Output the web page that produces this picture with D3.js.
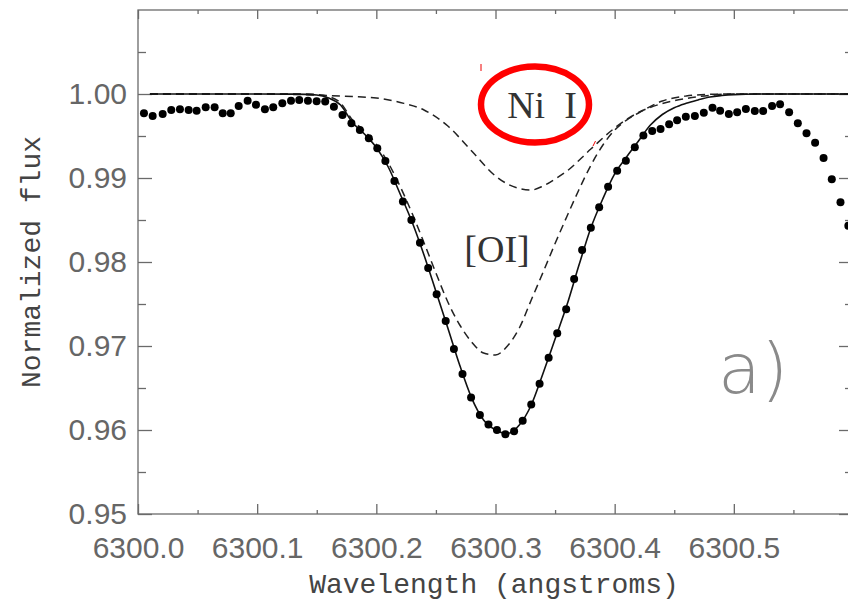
<!DOCTYPE html>
<html>
<head>
<meta charset="utf-8">
<script src="https://cdn.jsdelivr.net/npm/d3@7"></script>
<style>
  html, body { margin: 0; padding: 0; background: #fff; }
  svg { display: block; }
</style>
</head>
<body>
<div id="chart"></div>
<script>
// --- Data (wavelength in angstroms, normalized flux) ---
const obsWave = [6300.0050, 6300.0123, 6300.0207, 6300.0279, 6300.0352, 6300.0425, 6300.0492, 6300.0568, 6300.0643, 6300.0711,
  6300.0778, 6300.0845, 6300.0920, 6300.0990, 6300.1065, 6300.1135, 6300.1211, 6300.1284, 6300.1353, 6300.1426,
  6300.1499, 6300.1571, 6300.1644, 6300.1716, 6300.1791, 6300.1862, 6300.1937, 6300.2008, 6300.2076, 6300.2152,
  6300.2223, 6300.2294, 6300.2366, 6300.2435, 6300.2506, 6300.2582, 6300.2651, 6300.2723, 6300.2795, 6300.2869,
  6300.2941, 6300.3012, 6300.3083, 6300.3156, 6300.3228, 6300.3300, 6300.3370, 6300.3446, 6300.3518, 6300.3593,
  6300.3660, 6300.3727, 6300.3800, 6300.3870, 6300.3945, 6300.4021, 6300.4094, 6300.4169, 6300.4241, 6300.4315,
  6300.4385, 6300.4457, 6300.4524, 6300.4597, 6300.4673, 6300.4748, 6300.4821, 6300.4885, 6300.4958, 6300.5028,
  6300.5101, 6300.5176, 6300.5246, 6300.5321, 6300.5388, 6300.5464, 6300.5537, 6300.5610, 6300.5682, 6300.5753,
  6300.5822, 6300.5895, 6300.5961];
const obsFlux = [0.99770, 0.99738, 0.99762, 0.99810, 0.99818, 0.99810, 0.99801, 0.99842, 0.99842, 0.99770,
  0.99770, 0.99857, 0.99920, 0.99873, 0.99818, 0.99842, 0.99889, 0.99920, 0.99929, 0.99920,
  0.99913, 0.99911, 0.99849, 0.99750, 0.99651, 0.99571, 0.99473, 0.99354, 0.99202, 0.98964,
  0.98720, 0.98500, 0.98230, 0.97929, 0.97615, 0.97298, 0.96964, 0.96667, 0.96387, 0.96179,
  0.96065, 0.96000, 0.95950, 0.95986, 0.96111, 0.96304, 0.96551, 0.96861, 0.97151, 0.97437,
  0.97798, 0.98143, 0.98408, 0.98651, 0.98896, 0.99087, 0.99206, 0.99365, 0.99506, 0.99560,
  0.99583, 0.99639, 0.99687, 0.99730, 0.99738, 0.99777, 0.99837, 0.99801, 0.99762, 0.99782,
  0.99821, 0.99798, 0.99798, 0.99857, 0.99877, 0.99782, 0.99651, 0.99532, 0.99420, 0.99238,
  0.98985, 0.98711, 0.98432];

// synthetic fit (solid)
const fitWave = [6300.01, 6300.05, 6300.10, 6300.13, 6300.15, 6300.16, 6300.17, 6300.18, 6300.19, 6300.20,
  6300.21, 6300.22, 6300.23, 6300.24, 6300.25, 6300.26, 6300.27, 6300.28, 6300.29, 6300.30,
  6300.31, 6300.32, 6300.33, 6300.34, 6300.35, 6300.36, 6300.37, 6300.38, 6300.39, 6300.40,
  6300.41, 6300.42, 6300.43, 6300.44, 6300.45, 6300.46, 6300.47, 6300.48, 6300.49, 6300.50,
  6300.52, 6300.60];
const fitFlux = [1.00000, 1.00000, 1.00000, 0.99998, 0.99988, 0.99952, 0.99869, 0.99660, 0.99524, 0.99363,
  0.99131, 0.98810, 0.98476, 0.98083, 0.97650, 0.97214, 0.96770, 0.96380, 0.96119, 0.96000,
  0.95958, 0.96060, 0.96298, 0.96679, 0.97083, 0.97490, 0.97960, 0.98405, 0.98750, 0.99048,
  0.99250, 0.99440, 0.99630, 0.99756, 0.99837, 0.99889, 0.99929, 0.99964, 0.99982, 0.99993,
  1.00000, 1.00000];

// Ni I blend component (dashed)
const niWave = [6300.01, 6300.10, 6300.12, 6300.14, 6300.16, 6300.18, 6300.20, 6300.22, 6300.24, 6300.26,
  6300.28, 6300.30, 6300.31, 6300.32, 6300.33, 6300.34, 6300.35, 6300.36, 6300.38, 6300.40,
  6300.42, 6300.44, 6300.46, 6300.48, 6300.50, 6300.60];
const niFlux = [1.00000, 1.00000, 0.99998, 0.99992, 0.99982, 0.99970, 0.99952, 0.99899, 0.99810, 0.99619,
  0.99321, 0.99024, 0.98929, 0.98875, 0.98857, 0.98905, 0.98988, 0.99083, 0.99345, 0.99595,
  0.99780, 0.99887, 0.99946, 0.99985, 1.00000, 1.00000];

// [OI] component (dashed)
const oiWave = [6300.01, 6300.14, 6300.15, 6300.16, 6300.17, 6300.18, 6300.19, 6300.20, 6300.21, 6300.22,
  6300.23, 6300.24, 6300.25, 6300.26, 6300.27, 6300.28, 6300.29, 6300.30, 6300.31, 6300.32,
  6300.33, 6300.34, 6300.35, 6300.36, 6300.37, 6300.38, 6300.39, 6300.40, 6300.41, 6300.42,
  6300.44, 6300.46, 6300.48, 6300.50, 6300.60];
const oiFlux = [1.00000, 1.00000, 0.99994, 0.99970, 0.99893, 0.99690, 0.99560, 0.99400, 0.99180, 0.98900,
  0.98580, 0.98230, 0.97869, 0.97524, 0.97250, 0.97048, 0.96917, 0.96893, 0.97000, 0.97214,
  0.97548, 0.97880, 0.98220, 0.98545, 0.98860, 0.99150, 0.99390, 0.99570, 0.99690, 0.99774,
  0.99917, 0.99976, 0.99996, 1.00000, 1.00000];

const xMajor = [6300.0, 6300.1, 6300.2, 6300.3, 6300.4, 6300.5];
const xMinor = [6300.05, 6300.15, 6300.25, 6300.35, 6300.45, 6300.55];
const yMajor = [0.95, 0.96, 0.97, 0.98, 0.99, 1.00];
const yMinor = [0.955, 0.965, 0.975, 0.985, 0.995, 1.005];

// --- Setup ---
const W = 848, H = 603;
const svg = d3.select('#chart').append('svg').attr('width', W).attr('height', H);

const x = d3.scaleLinear().domain([6300.0, 6300.6]).range([138, 853]);
const y = d3.scaleLinear().domain([0.95, 1.01]).range([514, 10]);

const axisColor = '#6a6a6a';
const labelFont = '"Liberation Sans", Arial, sans-serif';

// frame
svg.append('rect')
  .attr('x', x.range()[0]).attr('y', y.range()[1])
  .attr('width', x.range()[1] - x.range()[0]).attr('height', y.range()[0] - y.range()[1])
  .attr('fill', 'none').attr('stroke', axisColor).attr('stroke-width', 1.3);

function styleAxis(sel) {
  sel.select('.domain').remove();
  sel.selectAll('line').attr('stroke', axisColor).attr('stroke-width', 1.3);
  sel.selectAll('text').attr('fill', '#666').style('font-family', labelFont).style('font-size', '30px');
}

// left / right y ticks
svg.append('g').attr('transform', `translate(${x.range()[0]},0)`)
  .call(d3.axisLeft(y).tickValues(yMajor).tickSize(-14).tickPadding(11).tickFormat(d3.format('.2f')))
  .call(styleAxis);
svg.append('g').attr('transform', `translate(${x.range()[0]},0)`)
  .call(d3.axisLeft(y).tickValues(yMinor).tickSize(-8).tickFormat(''))
  .call(styleAxis);
svg.append('g').attr('transform', `translate(${x.range()[1]},0)`)
  .call(d3.axisRight(y).tickValues(yMajor).tickSize(-14).tickFormat(''))
  .call(styleAxis);
svg.append('g').attr('transform', `translate(${x.range()[1]},0)`)
  .call(d3.axisRight(y).tickValues(yMinor).tickSize(-8).tickFormat(''))
  .call(styleAxis);

// bottom / top x ticks
svg.append('g').attr('transform', `translate(0,${y.range()[0]})`)
  .call(d3.axisBottom(x).tickValues(xMajor).tickSize(-10).tickPadding(23).tickFormat(d3.format('.1f')))
  .call(styleAxis);
svg.append('g').attr('transform', `translate(0,${y.range()[0]})`)
  .call(d3.axisBottom(x).tickValues(xMinor).tickSize(-4).tickFormat(''))
  .call(styleAxis);
svg.append('g').attr('transform', `translate(0,${y.range()[1]})`)
  .call(d3.axisTop(x).tickValues(xMajor).tickSize(-9).tickFormat(''))
  .call(styleAxis);
svg.append('g').attr('transform', `translate(0,${y.range()[1]})`)
  .call(d3.axisTop(x).tickValues(xMinor).tickSize(-4).tickFormat(''))
  .call(styleAxis);

// axis titles
const titleFont = '"Liberation Mono", "DejaVu Sans Mono", monospace';
svg.append('text')
  .attr('x', 494).attr('y', 593)
  .attr('text-anchor', 'middle')
  .attr('fill', '#444')
  .style('font-family', titleFont).style('font-size', '28px')
  .text('Wavelength (angstroms)');
svg.append('text')
  .attr('transform', 'translate(40,262) rotate(-90)')
  .attr('text-anchor', 'middle')
  .attr('fill', '#444')
  .style('font-family', titleFont).style('font-size', '28px')
  .text('Normalized flux');

// --- Lines ---
const line = d3.line()
  .x(d => x(d[0])).y(d => y(d[1]))
  .curve(d3.curveMonotoneX);

const zip = (a, b) => a.map((v, i) => [v, b[i]]);

svg.append('path').datum(zip(niWave, niFlux))
  .attr('d', line).attr('fill', 'none')
  .attr('stroke', '#222').attr('stroke-width', 1.5).attr('stroke-dasharray', '8,5');
svg.append('path').datum(zip(oiWave, oiFlux))
  .attr('d', line).attr('fill', 'none')
  .attr('stroke', '#222').attr('stroke-width', 1.5).attr('stroke-dasharray', '8,5');
svg.append('path').datum(zip(fitWave, fitFlux))
  .attr('d', line).attr('fill', 'none')
  .attr('stroke', '#111').attr('stroke-width', 1.6);

// observed points
svg.append('g').selectAll('circle')
  .data(zip(obsWave, obsFlux))
  .join('circle')
  .attr('cx', d => x(d[0])).attr('cy', d => y(d[1]))
  .attr('r', 4).attr('fill', '#000');

// --- Annotations ---
const serif = '"Liberation Serif", "Times New Roman", serif';
svg.append('text')
  .attr('x', 542).attr('y', 118)
  .attr('text-anchor', 'middle')
  .attr('fill', '#333')
  .style('white-space', 'pre')
  .style('font-family', serif).style('font-size', '38px')
  .text('Ni  I');
svg.append('text')
  .attr('x', 497).attr('y', 262)
  .attr('text-anchor', 'middle')
  .attr('fill', '#333')
  .style('font-family', serif).style('font-size', '38px')
  .text('[OI]');
svg.append('text')
  .attr('x', 718).attr('y', 393)
  .attr('fill', '#8a8a8a')
  .style('font-family', '"DejaVu Sans", sans-serif').style('font-weight', 200).style('font-size', '70px')
  .text('a)');

// red highlight
svg.append('ellipse')
  .attr('cx', 535).attr('cy', 104.5).attr('rx', 54).attr('ry', 38)
  .attr('fill', 'none').attr('stroke', '#ff0000').attr('stroke-width', 6.5);
svg.append('line').attr('x1', 481).attr('y1', 64).attr('x2', 481).attr('y2', 71)
  .attr('stroke', '#e00').attr('stroke-width', 1);
svg.append('line').attr('x1', 593).attr('y1', 146).attr('x2', 595.5).attr('y2', 141)
  .attr('stroke', '#e00').attr('stroke-width', 1);
</script>
</body>
</html>
